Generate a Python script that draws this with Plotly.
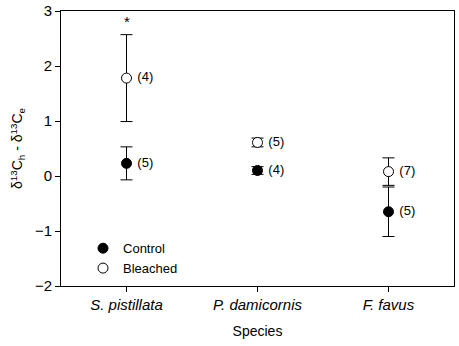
import plotly.graph_objects as go

species = ["S. pistillata", "P. damicornis", "F. favus"]
x_pos = [1, 2, 3]
control_mean = [0.23, 0.10, -0.65]
control_err = [0.30, 0.07, 0.45]
control_n = ["(5)", "(4)", "(5)"]
bleached_mean = [1.78, 0.61, 0.08]
bleached_err = [0.79, 0.08, 0.25]
bleached_n = ["(4)", "(5)", "(7)"]
y_ticks = [-2, -1, 0, 1, 2, 3]

font = "Liberation Sans, Arial, sans-serif"
fig = go.Figure()
fig.add_trace(go.Scatter(
    x=x_pos, y=control_mean, mode="markers+text", name="Control",
    marker=dict(symbol="circle", size=10, color="black", line=dict(color="black", width=1)),
    error_y=dict(type="data", array=control_err, color="black", thickness=1, width=6),
    text=[" " + t for t in control_n], textposition="middle right",
    textfont=dict(family=font, size=13, color="black"),
))
fig.add_trace(go.Scatter(
    x=x_pos, y=bleached_mean, mode="markers+text", name="Bleached",
    marker=dict(symbol="circle", size=10, color="white", line=dict(color="black", width=1)),
    error_y=dict(type="data", array=bleached_err, color="black", thickness=1, width=6),
    text=[" " + t for t in bleached_n], textposition="middle right",
    textfont=dict(family=font, size=13, color="black"),
))
fig.add_annotation(x=x_pos[0], y=bleached_mean[0] + bleached_err[0], text="*",
                   showarrow=False, yshift=13, font=dict(family=font, size=15, color="black"))

fig.update_layout(
    width=459, height=346,
    margin=dict(l=61, r=5, t=11, b=60, autoexpand=False),
    plot_bgcolor="white", paper_bgcolor="white",
    font=dict(family=font, size=13, color="black"),
    showlegend=True,
    legend=dict(x=0.056, y=0.01, xanchor="left", yanchor="bottom",
                bgcolor="rgba(0,0,0,0)", font=dict(size=13), itemwidth=30,
                tracegroupgap=0),
    xaxis=dict(range=[0.5, 3.5], tickvals=x_pos,
               ticktext=["<i>" + s + "</i>" for s in species],
               showline=True, linecolor="black", linewidth=1, mirror=True,
               ticks="outside", ticklen=5, tickcolor="black", showgrid=False,
               zeroline=False, tickfont=dict(size=15),
               title=dict(text="Species", font=dict(size=14), standoff=14)),
    yaxis=dict(range=[-2, 3], tickvals=y_ticks,
               showline=True, linecolor="black", linewidth=1, mirror=True,
               ticks="outside", ticklen=5, tickcolor="black", showgrid=False,
               zeroline=False, tickfont=dict(size=15),
               title=dict(text="δ<sup>13</sup>C<sub>h</sub> - δ<sup>13</sup>C<sub>e</sub>",
                          font=dict(size=14), standoff=8)),
)
# remove the page's default body margin so the figure sits at the window origin
fig.write_html("out.html", config={"displayModeBar": False},
               post_script="document.body.style.margin='0';")
